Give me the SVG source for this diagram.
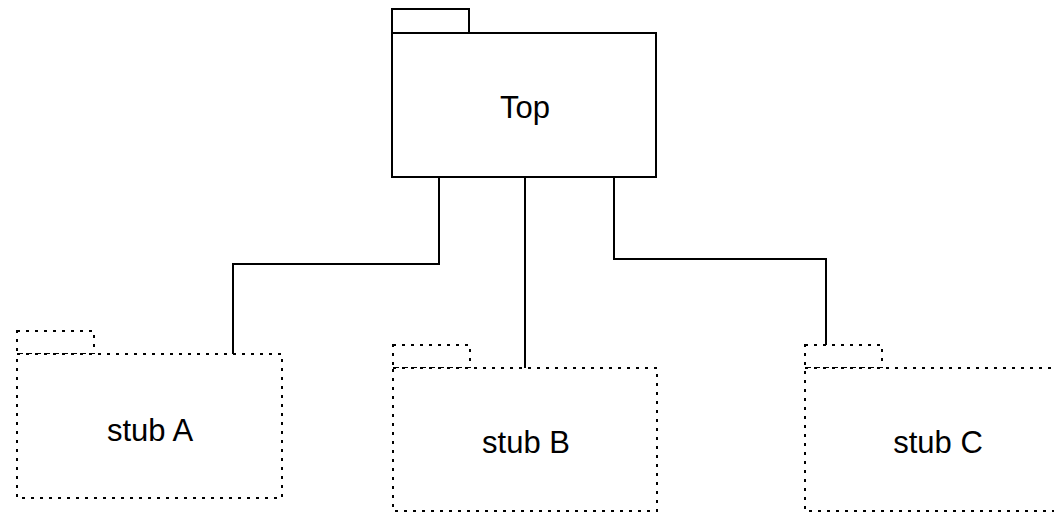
<svg xmlns="http://www.w3.org/2000/svg" width="1054" height="514" viewBox="0 0 1054 514">
<style>
.solid{fill:#fff;stroke:#000;stroke-width:2}
.stub{fill:#fff;stroke:#000;stroke-width:2;stroke-dasharray:3 6}
.conn{fill:none;stroke:#000;stroke-width:2}
text{font-family:"Liberation Sans",Arial,sans-serif;font-size:31px;fill:#000;text-anchor:middle}
</style>
<rect width="1054" height="514" fill="#fff"/>
<g id="top">
<rect class="solid" x="392" y="9" width="77" height="24"/>
<rect class="solid" x="392" y="33" width="264" height="144"/>
<text x="525" y="118">Top</text>
</g>
<g id="stubA">
<rect class="stub" x="17" y="331" width="77" height="23"/>
<rect class="stub" x="17" y="354" width="265" height="144"/>
<text x="150" y="441">stub A</text>
</g>
<g id="stubB">
<rect class="stub" x="393" y="345" width="77" height="23"/>
<rect class="stub" x="393" y="368" width="264" height="143"/>
<text x="526" y="453">stub B</text>
</g>
<g id="stubC">
<rect class="stub" x="805" y="345" width="77" height="23"/>
<rect class="stub" x="805" y="368" width="265" height="143"/>
<text x="938" y="453">stub C</text>
</g>
<g id="connectors">
<polyline class="conn" points="439,177 439,264 233,264 233,354"/>
<polyline class="conn" points="525,177 525,368"/>
<polyline class="conn" points="614,177 614,259 826,259 826,345"/>
</g>
</svg>
